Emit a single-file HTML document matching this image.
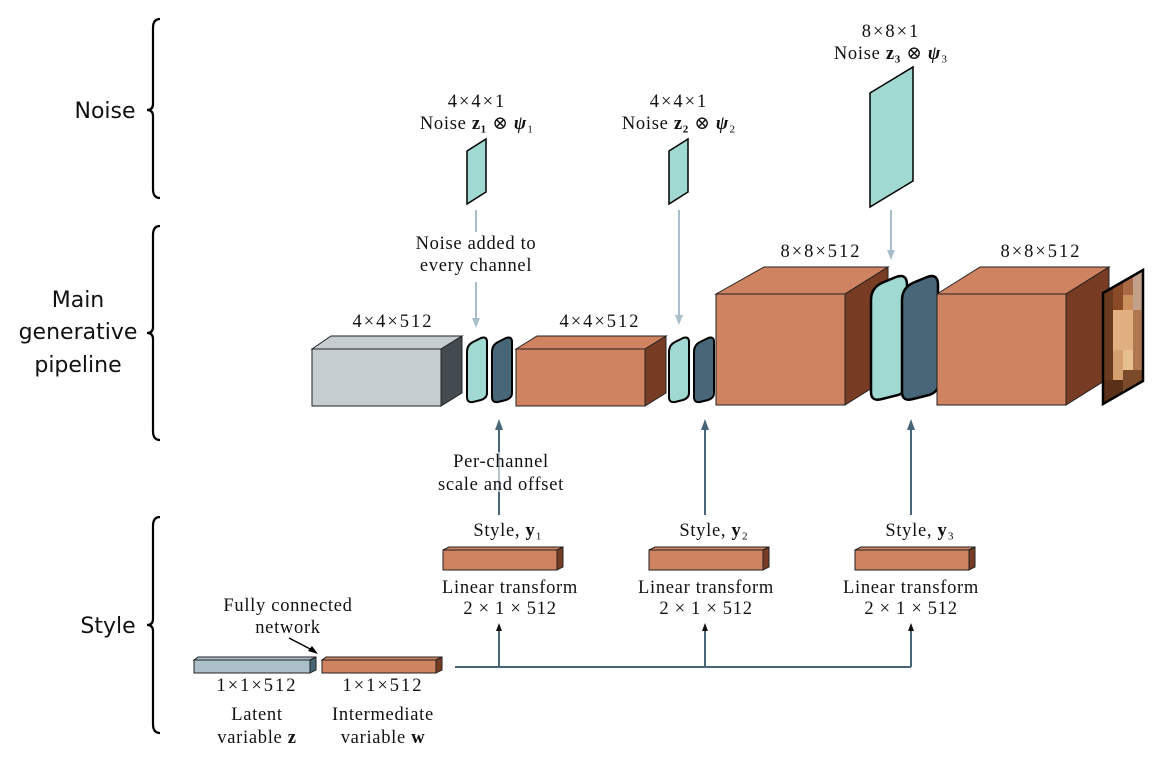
<!DOCTYPE html>
<html><head><meta charset="utf-8"><style>
html,body{margin:0;padding:0;background:#fff;}
svg{display:block;}
.t{font-family:"Liberation Serif","DejaVu Serif",serif;font-size:18.5px;letter-spacing:0.7px;fill:#111;text-anchor:middle;}
.d{letter-spacing:2px;}
.s{font-family:"DejaVu Sans","Liberation Sans",sans-serif;font-size:22px;fill:#111;text-anchor:middle;}
.b{fill:none;stroke:#000;stroke-width:2.2;}
</style></head><body>
<svg width="1166" height="764" viewBox="0 0 1166 764" xmlns="http://www.w3.org/2000/svg">
<!-- braces -->
<path class="b" d="M160,19 Q153,19 153,28 L153,104 Q153,110 147,110 Q153,110 153,116 L153,189 Q153,198 160,198"/>
<path class="b" d="M160,226 Q153,226 153,235 L153,327 Q153,333 147,333 Q153,333 153,339 L153,431 Q153,440 160,440"/>
<path class="b" d="M160,517 Q153,517 153,526 L153,619 Q153,625 147,625 Q153,625 153,631 L153,724 Q153,733 160,733"/>
<text class="s" x="105" y="118">Noise</text>
<text class="s" x="78" y="307">Main</text>
<text class="s" x="78" y="339">generative</text>
<text class="s" x="78" y="372">pipeline</text>
<text class="s" x="108" y="633">Style</text>

<!-- noise slabs -->
<path d="M467,151 L486,139 L486,192 L467,204 Z" fill="#a0d8d2" stroke="#000" stroke-width="1.5"/>
<path d="M669,151 L688,139 L688,192 L669,204 Z" fill="#a0d8d2" stroke="#000" stroke-width="1.5"/>
<path d="M870,93 L913,67 L913,181 L870,207 Z" fill="#a0d8d2" stroke="#000" stroke-width="1.5"/>
<text class="t d" x="477" y="107">4×4×1</text>
<text class="t" x="477" y="129">Noise <tspan font-weight="bold">z₁</tspan> ⊗ <tspan font-style="italic" font-weight="bold">ψ</tspan>₁</text>
<text class="t d" x="679" y="107">4×4×1</text>
<text class="t" x="679" y="129">Noise <tspan font-weight="bold">z₂</tspan> ⊗ <tspan font-style="italic" font-weight="bold">ψ</tspan>₂</text>
<text class="t d" x="891" y="37">8×8×1</text>
<text class="t" x="891" y="59">Noise <tspan font-weight="bold">z₃</tspan> ⊗ <tspan font-style="italic" font-weight="bold">ψ</tspan>₃</text>

<!-- noise arrows -->
<g stroke="#a8bfcb" stroke-width="2">
<line x1="476" y1="210" x2="476" y2="232"/>
<line x1="476" y1="282" x2="476" y2="320"/>
<line x1="679" y1="210" x2="679" y2="317"/>
<line x1="891" y1="210" x2="891" y2="252"/>
</g>
<g fill="#a8bfcb">
<path d="M472,318 L476,328 L480,318 Z"/>
<path d="M675,315 L679,325 L683,315 Z"/>
<path d="M887,250 L891,260 L895,250 Z"/>
</g>
<text class="t" x="476" y="249">Noise added to</text>
<text class="t" x="476" y="271">every channel</text>

<!-- box 1 gray -->
<path d="M312,349 L331,336 L462,336 L441,349 Z" fill="#c5cdd0" stroke="#222" stroke-width="1"/>
<path d="M441,349 L462,336 L462,393 L441,406 Z" fill="#434a50" stroke="#222" stroke-width="1"/>
<rect x="312" y="349" width="129" height="57" fill="#c5cdd0" stroke="#222" stroke-width="1"/>
<text class="t d" x="393" y="327">4×4×512</text>
<path d="M467,352 Q467,345 473,342 L481,338 Q487,336 487,342 L487,393 Q487,398 481,400 L473,402 Q467,403 467,397 Z" fill="#a0d8d2" stroke="#000" stroke-width="2"/>
<path d="M492,352 Q492,345 498,342 L506,338 Q512,336 512,342 L512,393 Q512,398 506,400 L498,402 Q492,403 492,397 Z" fill="#476778" stroke="#000" stroke-width="2"/>
<!-- box 2 -->
<path d="M516,349 L537,336 L666,336 L645,349 Z" fill="#d08361" stroke="#222" stroke-width="1"/>
<path d="M645,349 L666,336 L666,393 L645,406 Z" fill="#783c24" stroke="#222" stroke-width="1"/>
<rect x="516" y="349" width="129" height="57" fill="#d08361" stroke="#222" stroke-width="1"/>
<text class="t d" x="600" y="327">4×4×512</text>
<path d="M669,352 Q669,345 675,342 L683,338 Q689,336 689,342 L689,393 Q689,398 683,400 L675,402 Q669,403 669,397 Z" fill="#a0d8d2" stroke="#000" stroke-width="2"/>
<path d="M694,352 Q694,345 700,342 L708,338 Q714,336 714,342 L714,393 Q714,398 708,400 L700,402 Q694,403 694,397 Z" fill="#476778" stroke="#000" stroke-width="2"/>
<!-- box 3 -->
<path d="M716,294 L764,267 L888,267 L845,294 Z" fill="#d08361" stroke="#222" stroke-width="1"/>
<path d="M845,294 L888,267 L888,378 L845,405 Z" fill="#783c24" stroke="#222" stroke-width="1"/>
<rect x="716" y="294" width="129" height="111" fill="#d08361" stroke="#222" stroke-width="1"/>
<text class="t d" x="821" y="257">8×8×512</text>
<path d="M871,300 Q871,287 884,282 L896,277 Q907,273 907,285 L907,385 Q907,392 898,395 L882,399 Q871,402 871,392 Z" fill="#a0d8d2" stroke="#000" stroke-width="2.5"/>
<path d="M902,300 Q902,287 915,282 L927,277 Q938,273 938,285 L938,385 Q938,392 929,395 L913,399 Q902,402 902,392 Z" fill="#476778" stroke="#000" stroke-width="2.5"/>
<!-- box 4 -->
<path d="M937,294 L980,267 L1109,267 L1066,294 Z" fill="#d08361" stroke="#222" stroke-width="1"/>
<path d="M1066,294 L1109,267 L1109,378 L1066,405 Z" fill="#783c24" stroke="#222" stroke-width="1"/>
<rect x="937" y="294" width="129" height="111" fill="#d08361" stroke="#222" stroke-width="1"/>
<text class="t d" x="1041" y="257">8×8×512</text>
<!-- image -->
<clipPath id="im"><path d="M1103,293 L1143,270 L1143,381 L1103,404 Z"/></clipPath>
<g clip-path="url(#im)">
<rect x="1100" y="265" width="46" height="142" fill="#c9905e"/>
<rect x="1103" y="270" width="10" height="140" fill="#6b3a1e"/>
<rect x="1113" y="280" width="10" height="30" fill="#8a4a28"/>
<rect x="1123" y="270" width="10" height="25" fill="#a86a45"/>
<rect x="1133" y="270" width="10" height="40" fill="#c2a08a"/>
<rect x="1113" y="310" width="20" height="40" fill="#e0b080"/>
<rect x="1133" y="310" width="10" height="60" fill="#b07850"/>
<rect x="1113" y="350" width="10" height="30" fill="#d4a070"/>
<rect x="1123" y="350" width="10" height="20" fill="#e8c090"/>
<rect x="1103" y="380" width="20" height="30" fill="#5a3018"/>
<rect x="1123" y="370" width="20" height="20" fill="#7a4a2a"/>
</g>
<path d="M1103,293 L1143,270 L1143,381 L1103,404 Z" fill="none" stroke="#000" stroke-width="2.5"/>

<!-- style arrows up -->
<g stroke="#476778" stroke-width="2">
<line x1="499" y1="515" x2="499" y2="428"/>
<line x1="705" y1="515" x2="705" y2="428"/>
<line x1="911" y1="515" x2="911" y2="428"/>
</g>
<g fill="#476778">
<path d="M495,430 L499,419 L503,430 Z"/>
<path d="M701,430 L705,419 L709,430 Z"/>
<path d="M907,430 L911,419 L915,430 Z"/>
</g>
<rect x="435" y="452" width="132" height="40" fill="#fff" opacity="0.6"/>
<text class="t" x="501" y="467">Per-channel</text>
<text class="t" x="501" y="490">scale and offset</text>

<!-- style bars -->
<g>
<text class="t" x="508" y="536">Style, <tspan font-weight="bold">y</tspan>₁</text>
<path d="M443,550 L449,547 L563,547 L557,550 Z" fill="#d08361" stroke="#222" stroke-width="1"/>
<path d="M557,550 L563,547 L563,567 L557,570 Z" fill="#783c24" stroke="#222" stroke-width="1"/>
<rect x="443" y="550" width="114" height="20" fill="#d08361" stroke="#222" stroke-width="1"/>
<text class="t" x="510" y="593">Linear transform</text>
<text class="t" x="510" y="614">2 × 1 × 512</text>
</g>
<g>
<text class="t" x="714" y="536">Style, <tspan font-weight="bold">y</tspan>₂</text>
<path d="M649,550 L655,547 L769,547 L763,550 Z" fill="#d08361" stroke="#222" stroke-width="1"/>
<path d="M763,550 L769,547 L769,567 L763,570 Z" fill="#783c24" stroke="#222" stroke-width="1"/>
<rect x="649" y="550" width="114" height="20" fill="#d08361" stroke="#222" stroke-width="1"/>
<text class="t" x="706" y="593">Linear transform</text>
<text class="t" x="706" y="614">2 × 1 × 512</text>
</g>
<g>
<text class="t" x="920" y="536">Style, <tspan font-weight="bold">y</tspan>₃</text>
<path d="M855,550 L861,547 L975,547 L969,550 Z" fill="#d08361" stroke="#222" stroke-width="1"/>
<path d="M969,550 L975,547 L975,567 L969,570 Z" fill="#783c24" stroke="#222" stroke-width="1"/>
<rect x="855" y="550" width="114" height="20" fill="#d08361" stroke="#222" stroke-width="1"/>
<text class="t" x="911" y="593">Linear transform</text>
<text class="t" x="911" y="614">2 × 1 × 512</text>
</g>

<!-- bottom connector -->
<path d="M455,667 L911,667 M499,667 L499,630 M705,667 L705,630 M911,667 L911,630" fill="none" stroke="#476778" stroke-width="2"/>
<g fill="#111">
<path d="M496,631 L499,623 L502,631 Z"/>
<path d="M702,631 L705,623 L708,631 Z"/>
<path d="M908,631 L911,623 L914,631 Z"/>
</g>

<!-- latent bars -->
<path d="M194,660 L198,657 L316,657 L310,660 Z" fill="#aebfcc" stroke="#222" stroke-width="1"/>
<path d="M310,660 L316,657 L316,670 L310,673 Z" fill="#476778" stroke="#222" stroke-width="1"/>
<rect x="194" y="660" width="116" height="13" fill="#aebfcc" stroke="#222" stroke-width="1"/>
<path d="M322,660 L326,657 L442,657 L436,660 Z" fill="#d08361" stroke="#222" stroke-width="1"/>
<path d="M436,660 L442,657 L442,670 L436,673 Z" fill="#783c24" stroke="#222" stroke-width="1"/>
<rect x="322" y="660" width="114" height="13" fill="#d08361" stroke="#222" stroke-width="1"/>
<text class="t d" x="257" y="691">1×1×512</text>
<text class="t d" x="383" y="691">1×1×512</text>
<text class="t" x="257" y="720">Latent</text>
<text class="t" x="257" y="743">variable <tspan font-weight="bold">z</tspan></text>
<text class="t" x="383" y="720">Intermediate</text>
<text class="t" x="383" y="743">variable <tspan font-weight="bold">w</tspan></text>
<text class="t" x="288" y="611">Fully connected</text>
<text class="t" x="288" y="633">network</text>
<line x1="289" y1="638" x2="314" y2="651" stroke="#000" stroke-width="1.5"/>
<path d="M308,651 L318,654 L312,646 Z" fill="#000"/>
</svg>
</body></html>
